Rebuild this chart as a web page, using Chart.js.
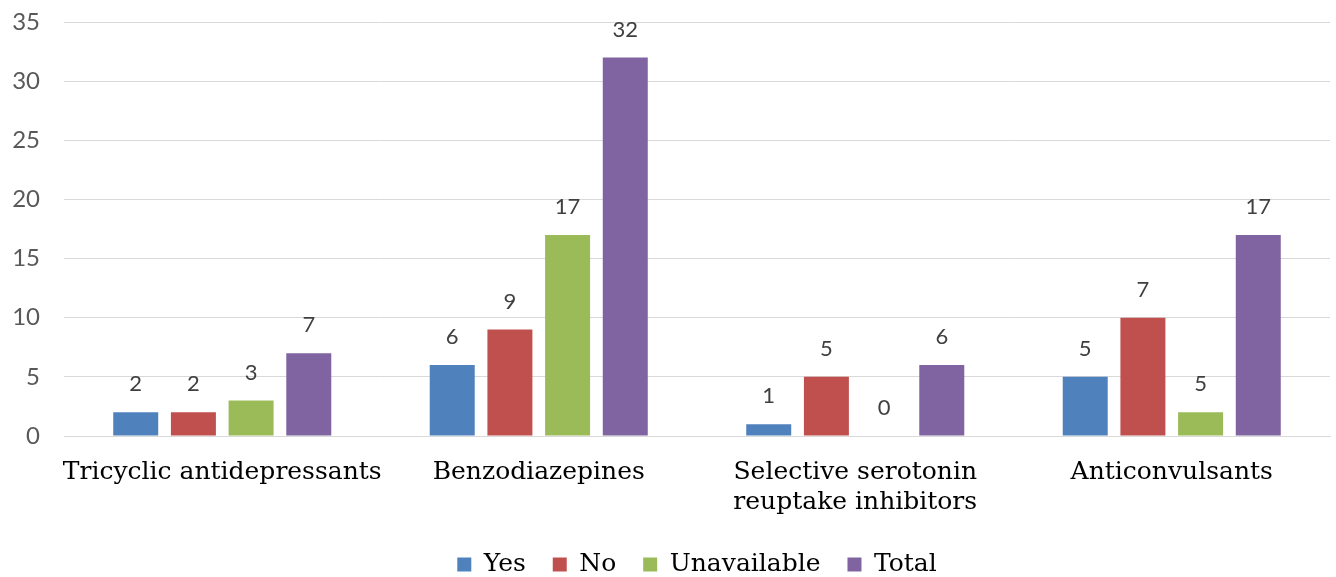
<!DOCTYPE html>
<html>
<head>
<meta charset="utf-8">
<script src="https://cdn.jsdelivr.net/npm/chart.js@4"></script>
<style>
  html, body { margin: 0; padding: 0; background: #fff; }
  #wrap { width: 1336px; height: 577px; }
</style>
</head>
<body>
<div id="wrap"><canvas id="bar-chart" width="1336" height="577"></canvas></div>
<script>
var categories = ['Tricyclic antidepressants', 'Benzodiazepines', ['Selective serotonin', 'reuptake inhibitors'], 'Anticonvulsants'];
var seriesNames = ['Yes', 'No', 'Unavailable', 'Total'];
var seriesColors = ['#4f81bd', '#c0504d', '#9bbb59', '#8064a2'];

// bar heights as drawn
var yesValues = [2, 6, 1, 5];
var noValues = [2, 9, 5, 10];
var unavailableValues = [3, 17, 0, 2];
var totalValues = [7, 32, 6, 17];

// printed labels (some differ from the bar heights in the source)
var yesLabels = ['2', '6', '1', '5'];
var noLabels = ['2', '9', '5', '7'];
var unavailableLabels = ['3', '17', '0', '5'];
var totalLabels = ['7', '32', '6', '17'];

var yTicks = [0, 5, 10, 15, 20, 25, 30, 35];

var allValues = [yesValues, noValues, unavailableValues, totalValues];
var allLabels = [yesLabels, noLabels, unavailableLabels, totalLabels];

var serif = '"DejaVu Serif", "Liberation Serif", serif';
var sans = 'Lato, "Open Sans", sans-serif';

var valueLabels = {
    id: 'valueLabels',
    afterDatasetsDraw: function(chart) {
        var ctx = chart.ctx;
        ctx.save();
        ctx.font = '22px ' + sans;
        ctx.fillStyle = '#404040';
        ctx.textAlign = 'center';
        ctx.textBaseline = 'middle';
        chart.data.datasets.forEach(function(ds, i) {
            var meta = chart.getDatasetMeta(i);
            meta.data.forEach(function(bar, j) {
                ctx.fillText(allLabels[i][j], bar.x, bar.y - 28);
            });
        });
        ctx.restore();
    }
};

new Chart(document.getElementById('bar-chart'), {
    type: 'bar',
    data: {
        labels: categories,
        datasets: seriesNames.map(function(name, i) {
            return {
                label: name,
                data: allValues[i],
                backgroundColor: seriesColors[i],
                borderWidth: 0,
                categoryPercentage: 0.729,
                barPercentage: 0.78
            };
        })
    },
    options: {
        responsive: false,
        animation: false,
        layout: { padding: { top: 22, right: 6, left: 0, bottom: -10 } },
        scales: {
            x: {
                grid: { display: false },
                border: { color: '#d9d9d9', width: 1 },
                ticks: {
                    color: '#000',
                    font: { family: serif, size: 25, lineHeight: 1.2 },
                    maxRotation: 0,
                    autoSkip: false,
                    padding: 13
                },
                afterFit: function(axis) {
                    axis.paddingLeft = 0;
                    axis.paddingRight = 0;
                    axis.height = axis.height - 5;
                }
            },
            y: {
                min: 0,
                max: 35,
                afterBuildTicks: function(axis) {
                    axis.ticks = yTicks.map(function(v) { return { value: v }; });
                },
                grid: { color: '#d9d9d9', lineWidth: 1, drawTicks: false },
                border: { display: false },
                ticks: {
                    color: '#595959',
                    font: { family: sans, size: 24 },
                    padding: 24
                },
                afterFit: function(axis) {
                    axis.width = 64;
                    axis.paddingTop = 0;
                    axis.paddingBottom = 0;
                }
            }
        },
        plugins: {
            legend: {
                position: 'bottom',
                fullSize: false,
                labels: {
                    color: '#000',
                    font: { family: serif, size: 25 },
                    boxWidth: 14,
                    boxHeight: 14,
                    padding: 27
                }
            },
            tooltip: { enabled: false }
        }
    },
    plugins: [valueLabels]
});
</script>
</body>
</html>
